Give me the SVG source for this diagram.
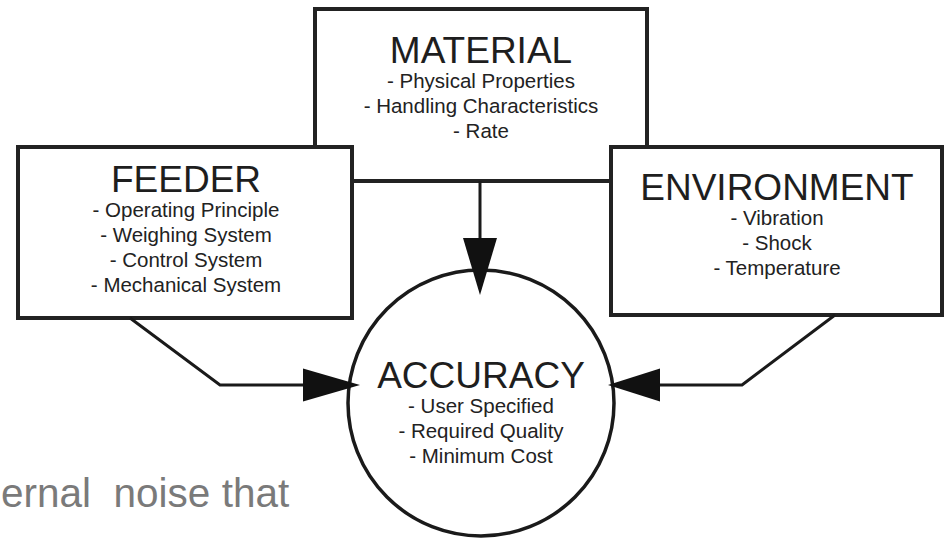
<svg xmlns="http://www.w3.org/2000/svg" width="944" height="538" viewBox="0 0 944 538">
  <style>
    .box { fill: #ffffff; stroke: #222222; stroke-width: 4; }
    .ring { fill: #ffffff; stroke: #1a1a1a; stroke-width: 3.5; }
    .wire { fill: none; stroke: #1a1a1a; stroke-width: 3; stroke-linejoin: miter; }
    .head { fill: #111111; }
    .title { font-family: "Liberation Sans", Arial, sans-serif; font-size: 37px; fill: #1e1e1e; text-anchor: middle; }
    .item { font-family: "Liberation Sans", Arial, sans-serif; font-size: 20.5px; fill: #222222; text-anchor: middle; }
    .caption { font-family: "Liberation Sans", Arial, sans-serif; font-size: 40.5px; fill: #7a7a7a; white-space: pre; }
  </style>

  <rect width="944" height="538" fill="#ffffff"/>

  <!-- Material box sits behind the two side boxes -->
  <g id="material">
    <rect class="box" x="315" y="9" width="332" height="172"/>
    <text class="title" x="481" y="63">MATERIAL</text>
    <text class="item" x="481" y="88">- Physical Properties</text>
    <text class="item" x="481" y="113">- Handling Characteristics</text>
    <text class="item" x="481" y="138">- Rate</text>
  </g>

  <g id="feeder">
    <rect class="box" x="18" y="147" width="334" height="171"/>
    <text class="title" x="186" y="192">FEEDER</text>
    <text class="item" x="186" y="217">- Operating Principle</text>
    <text class="item" x="186" y="242">- Weighing System</text>
    <text class="item" x="186" y="267">- Control System</text>
    <text class="item" x="186" y="292">- Mechanical System</text>
  </g>

  <g id="environment">
    <rect class="box" x="611" y="147" width="331" height="168"/>
    <text class="title" x="777" y="200">ENVIRONMENT</text>
    <text class="item" x="777" y="225">- Vibration</text>
    <text class="item" x="777" y="250">- Shock</text>
    <text class="item" x="777" y="275">- Temperature</text>
  </g>

  <g id="accuracy">
    <circle class="ring" cx="481" cy="403" r="133"/>
    <text class="title" x="481" y="388">ACCURACY</text>
    <text class="item" x="481" y="413">- User Specified</text>
    <text class="item" x="481" y="438">- Required Quality</text>
    <text class="item" x="481" y="463">- Minimum Cost</text>
  </g>

  <!-- Connectors into the accuracy circle -->
  <g id="connectors">
    <path class="wire" d="M480 181 V240"/>
    <polygon class="head" points="463,238 497,238 480,295"/>

    <path class="wire" d="M130 318 L220 385 H305"/>
    <polygon class="head" points="303,368.5 303,401.5 360,385"/>

    <path class="wire" d="M835 315 L742 385 H658"/>
    <polygon class="head" points="660,368.5 660,401.5 608,385"/>
  </g>

  <text class="caption" x="1" y="507">ernal  noise that</text>
</svg>
